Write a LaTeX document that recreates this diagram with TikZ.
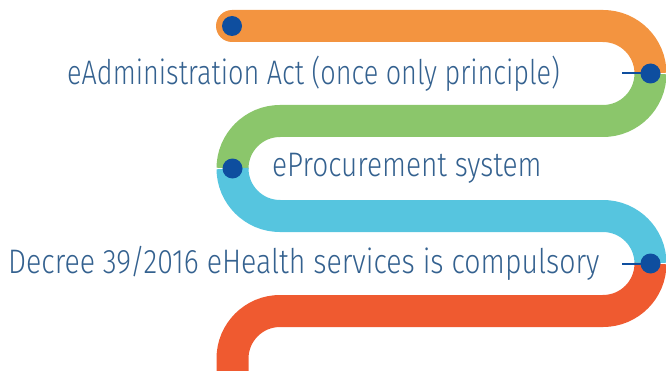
\documentclass[tikz,border=0pt]{standalone}
\usepackage{graphicx}
\usepackage{fontspec}
\setmainfont{Fira Sans Light}
\usepackage{tikz}
\usetikzlibrary{positioning}

\definecolor{ribOrange}{HTML}{F39440}
\definecolor{ribGreen}{HTML}{8BC66B}
\definecolor{ribBlue}{HTML}{56C5DF}
\definecolor{ribRed}{HTML}{EF5A30}
\definecolor{dotBlue}{HTML}{0E4E9F}
\definecolor{txtBlue}{HTML}{34618F}

\newcommand\lbltext[2][0.82]{\scalebox{#1}[1]{#2}}

\begin{document}
\begin{tikzpicture}[x=1pt,y=1pt]
        \useasboundingbox (0,0) rectangle (666,370);
        \clip (0,0) rectangle (666,370);
        % ribbon
        \begin{scope}[line width=32pt]
          \fill[ribOrange] (232,344) circle (16);
          \draw[ribOrange] (232,344) -- (603,344) arc[start angle=90,end angle=0,radius=47.5];
          \draw[ribGreen] (650.5,296.5) arc[start angle=0,end angle=-90,radius=47.5]
            -- (280,249) arc[start angle=90,end angle=180,radius=47.5];
          \draw[ribBlue] (232.5,201.5) arc[start angle=180,end angle=270,radius=47.5]
            -- (603,154) arc[start angle=90,end angle=0,radius=47.5];
          \draw[ribRed] (650.5,106.5) arc[start angle=0,end angle=-90,radius=47.5]
            -- (280,59) arc[start angle=90,end angle=180,radius=47.5] -- (232.5,-30);
        \end{scope}
        % dots
        \begin{scope}[every node/.style={circle,fill=dotBlue,minimum size=20pt,inner sep=0pt}]
          \node (d1) at (232,344) {};
          \node (d2) at (650.5,296.5) {};
          \node (d3) at (232.5,201.5) {};
          \node (d4) at (650.5,106.5) {};
        \end{scope}
        \coordinate (t2) at (622,296.5);
        \coordinate (t4) at (622,106.5);
        \begin{scope}[every edge/.style={draw=dotBlue,line width=2pt}]
          \path (t2) edge (d2.center);
          \path (t4) edge (d4.center);
        \end{scope}
        % labels
        \begin{scope}[every node/.style={text=txtBlue,font=\fontsize{34}{34}\selectfont,inner sep=0pt,anchor=west}]
          \node (l1) at (67,296.5) {\lbltext[0.795]{eAdministration Act (once only principle)}};
          \node (l2) at (272,201.5) {\lbltext[0.825]{eProcurement system}};
          \node (l3) at (8,106.5) {\lbltext[0.837]{Decree 39/2016 eHealth services is compulsory}};
        \end{scope}
      \end{tikzpicture}
\end{document}
